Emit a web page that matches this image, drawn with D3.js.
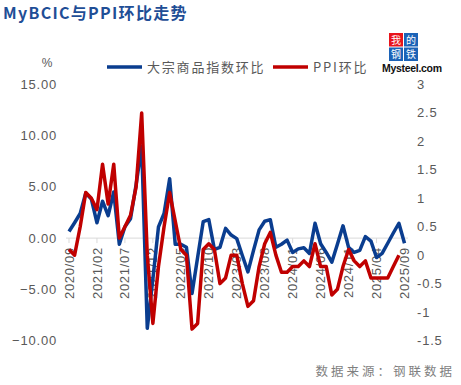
<!DOCTYPE html>
<html>
<head>
<meta charset="utf-8">
<script src="https://cdn.jsdelivr.net/npm/d3@7"></script>
<style>
  body { margin: 0; background: #fff; }
  text { font-family: "Liberation Sans", Arial, "Noto Sans CJK SC", sans-serif; }
  .cjk { font-family: "Noto Sans CJK SC", sans-serif; }
</style>
</head>
<body>
<svg id="chart" width="461" height="385"></svg>
<script>
// months 2020/09 .. 2025/09
const months = [];
for (let y = 2020, m = 9; y < 2025 || (y === 2025 && m <= 9); m++) {
    if (m > 12) { m = 1; y++; }
    months.push(y + '/' + String(m).padStart(2, '0'));
}
const tickLabels = ['2020/09', '2021/02', '2021/07', '2021/12', '2022/05', '2022/10', '2023/03',
    '2023/08', '2024/01', '2024/06', '2024/11', '2025/04', '2025/09'];

// 大宗商品指数环比 (left axis, %)
const bcicValues = [
    0.64, 1.5, 2.4, 4.4, 3.8, 1.5, 3.6, 2.2, 4.5, -0.6,
    1.1, 1.9, 5.2, 9.0, -8.8, -4.0, 1.1, 2.4, 5.8, -0.6,
    -0.6, -0.9, -5.4, -1.9, 1.6, 1.8, -1.1, -0.9, 0.95, 0.3,
    -0.05, -1.7, -3.3, -1.2, 0.8, 1.65, 1.8, -0.9, -0.6, -0.2,
    -1.4, -1.05, -0.95, -1.5, 1.45, -0.55, -1.4, -2.35, -0.6, 1.2,
    -0.9, -1.4, -1.2, 0.15, -0.3, -1.9, -1.5, -0.5, 0.5, 1.45,
    -0.5
];
// PPI环比 (right axis), through 2025/08
const ppiValues = [
    0.1, 0.0, 0.5, 1.1, 1.0, 0.8, 1.6, 0.9, 1.6, 0.3,
    0.5, 0.7, 1.2, 2.5, 0.0, -1.2, -0.2, 0.5, 1.1, 0.6,
    0.1, 0.0, -1.3, -1.2, 0.1, 0.2, 0.1, -0.5, -0.4, 0.0,
    0.0, -0.5, -0.9, -0.8, -0.2, 0.2, 0.4, 0.0, -0.3, -0.3,
    -0.2, -0.2, -0.1, -0.2, 0.2, -0.2, -0.2, -0.7, -0.6, -0.2,
    0.1, -0.1, -0.2, -0.1, -0.4, -0.4, -0.4, -0.4, -0.2, 0.0
];
const leftTicks = [15, 10, 5, 0, -5, -10];
const rightTicks = [3, 2.5, 2, 1.5, 1, 0.5, 0, -0.5, -1, -1.5];

const blue = '#0a3d8f';
const red = '#c00000';
const grey = '#595959';

const svg = d3.select('#chart');
svg.append('rect').attr('width', 461).attr('height', 385).attr('fill', '#fff');

const x = d3.scalePoint().domain(months).range([69, 404.5]);
const yLeft = d3.scaleLinear().domain([-10, 15]).range([340.5, 84.5]);
const yRight = d3.scaleLinear().domain([-1.5, 3]).range([340.5, 84.5]);

// title
svg.append('text')
    .attr('class', 'cjk')
    .attr('x', 3).attr('y', 19)
    .attr('font-size', 16).attr('font-weight', 'bold')
    .attr('letter-spacing', 1.3)
    .attr('fill', '#1f4e96')
    .text('MyBCIC与PPI环比走势');

// unit
svg.append('text').attr('x', 47).attr('y', 67)
    .attr('font-size', 12).attr('fill', grey).attr('text-anchor', 'middle').text('%');

// legend
const legend = [
    { label: '大宗商品指数环比', color: blue, x: 107 },
    { label: 'PPI环比', color: red, x: 273 }
];
legend.forEach(d => {
    svg.append('line').attr('x1', d.x).attr('x2', d.x + 35).attr('y1', 67).attr('y2', 67)
        .attr('stroke', d.color).attr('stroke-width', 3.5);
    svg.append('text').attr('class', 'cjk').attr('x', d.x + 40).attr('y', 72)
        .attr('font-size', 13).attr('letter-spacing', 1.8).attr('fill', grey).text(d.label);
});

// logo
const logo = svg.append('g').attr('transform', 'translate(389,33)');
[['我', 0, 0, '#e8141b'], ['的', 15, 0, '#1c63b7'], ['钢', 0, 14.5, '#1c63b7'], ['铁', 15, 14.5, '#1c63b7']]
    .forEach(([ch, dx, dy, c]) => {
        logo.append('rect').attr('x', dx).attr('y', dy).attr('width', 14).attr('height', 13.5).attr('fill', c);
        logo.append('text').attr('class', 'cjk').attr('x', dx + 7).attr('y', dy + 10.5)
            .attr('text-anchor', 'middle').attr('font-size', 10).attr('fill', '#fff').text(ch);
    });
svg.append('text').attr('x', 382).attr('y', 72).attr('font-size', 10.5).attr('font-weight', 'bold')
    .attr('fill', '#111').attr('letter-spacing', -0.3).text('Mysteel.com');

// zero line + ticks
svg.append('line').attr('x1', 66).attr('x2', 408)
    .attr('y1', yLeft(0)).attr('y2', yLeft(0)).attr('stroke', '#d9d9d9').attr('stroke-width', 1);
tickLabels.forEach(t => {
    svg.append('line').attr('x1', x(t)).attr('x2', x(t))
        .attr('y1', yLeft(0)).attr('y2', yLeft(0) + 5).attr('stroke', '#d9d9d9');
});

// left axis labels
leftTicks.forEach(v => {
    svg.append('text').attr('x', 57).attr('y', yLeft(v)).attr('dy', '0.35em')
        .attr('text-anchor', 'end').attr('font-size', 13).attr('letter-spacing', 0.8)
        .attr('fill', grey).text(d3.format('.2f')(v));
});

// right axis labels
rightTicks.forEach(v => {
    svg.append('text').attr('x', 417).attr('y', yRight(v)).attr('dy', '0.35em')
        .attr('font-size', 13).attr('letter-spacing', 0.8)
        .attr('fill', grey).text(String(v));
});

// x labels
tickLabels.forEach(t => {
    svg.append('text')
        .attr('transform', `translate(${x(t)},${yLeft(0) + 9}) rotate(-90)`)
        .attr('text-anchor', 'end').attr('dy', '0.35em')
        .attr('font-size', 13).attr('letter-spacing', 0.7)
        .attr('fill', grey).text(t);
});

// series
const bcicLine = d3.line().x((d, i) => x(months[i])).y(d => yLeft(d));
const ppiLine = d3.line().x((d, i) => x(months[i])).y(d => yRight(d));

svg.append('path').datum(bcicValues).attr('d', bcicLine)
    .attr('fill', 'none').attr('stroke', blue).attr('stroke-width', 3.5).attr('stroke-linejoin', 'round');
svg.append('path').datum(ppiValues).attr('d', ppiLine)
    .attr('fill', 'none').attr('stroke', red).attr('stroke-width', 3.5).attr('stroke-linejoin', 'round');

// source
svg.append('text').attr('class', 'cjk').attr('x', 455).attr('y', 376)
    .attr('text-anchor', 'end').attr('font-size', 12.5).attr('letter-spacing', 3)
    .attr('fill', '#7f7f7f').text('数据来源：钢联数据');
</script>
</body>
</html>
